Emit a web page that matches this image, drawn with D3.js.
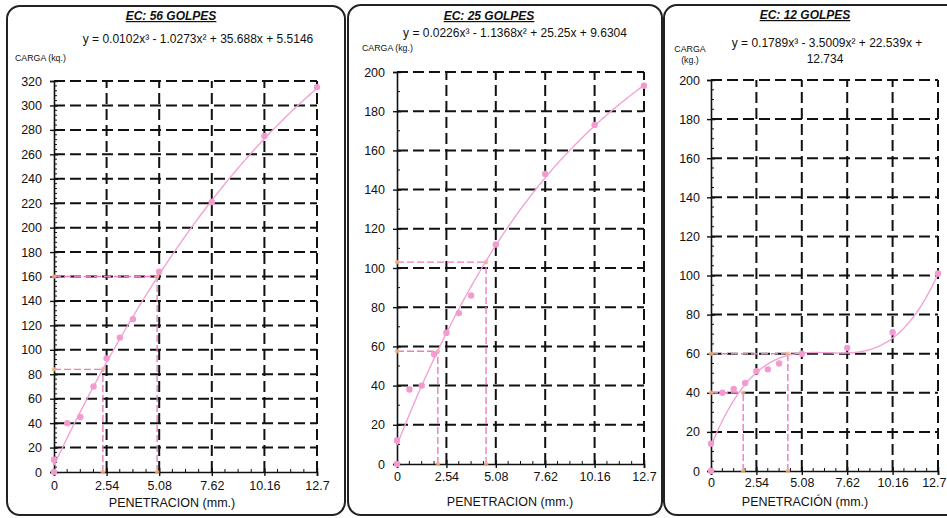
<!DOCTYPE html>
<html><head><meta charset="utf-8">
<script src="https://cdn.jsdelivr.net/npm/d3@7"></script>
<style>body{margin:0;background:#fff} text{font-family:"Liberation Sans",Arial,sans-serif;fill:#111}</style>
</head><body><svg id="c" width="947" height="518"></svg>
<script>
// ---------- DATA ----------
const xTickValues = [0, 2.54, 5.08, 7.62, 10.16, 12.7];
const xTickLabels = ["0", "2.54", "5.08", "7.62", "10.16", "12.7"];
const titles = ["EC: 56 GOLPES", "EC: 25 GOLPES", "EC: 12 GOLPES"];
const equationLines = [
  ["y = 0.0102x³ - 1.0273x² + 35.688x + 5.5146"],
  ["y = 0.0226x³ - 1.1368x² + 25.25x + 9.6304"],
  ["y = 0.1789x³ - 3.5009x² + 22.539x +", "12.734"]
];
const yAxisTitles = [["CARGA (kq.)"], ["CARGA (kg.)"], ["CARGA", "(kg.)"]];
const xAxisTitles = ["PENETRACION (mm.)", "PENETRACION (mm.)", "PENETRACIÓN (mm.)"];
const yMaxes = [320, 200, 200];
const yTickSteps = [20, 20, 20];
const yMinorSteps = [4, 10, 5];

const penetration = [0, 0, 0.64, 1.27, 1.91, 2.54, 3.18, 3.81, 5.08, 7.62, 10.16, 12.7];
const load56 = [0, 10, 40, 45, 70, 93, 110, 125, 164, 221, 275, 315];
const load25 = [0, 12, 38, 40, 56, 67, 77, 86, 112, 148, 173, 193];
const load12 = [0, 14, 40, 42, 45, 51, 52, 55, 60, 63, 71, 101];

// cubic trendline coefficients as printed on the chart (x³, x², x, const)
const coef56 = [0.0102, -1.0273, 35.688, 5.5146];
const coef25 = [0.0226, -1.1368, 25.25, 9.6304];
const coef12 = [0.1789, -3.5009, 22.539, 12.734];

// corrected reading lines (penetration, load)
const refX56 = [2.36, 4.98], refY56 = [84, 160];
const refX25 = [2.1, 4.58], refY25 = [57.5, 103];
const refX12 = [1.8, 4.3], refY12 = [40, 60];

// ---------- LAYOUT ----------
const layouts = [
  {box:[7,6,338,509], x0:54, x1:317, yTop:81, yBot:472, yLabX:42,
   title:[171,20], eq:[[198,43]], yt:[[15,61,"start"]], xLabY:490, xTitle:[172,507], clampRight:false},
  {box:[348,5,314,510], x0:397, x1:644, yTop:72, yBot:464, yLabX:385,
   title:[489,20], eq:[[515,37]], yt:[[362,51,"start"]], xLabY:481, xTitle:[510,506], clampRight:false},
  {box:[664,5,300,510], x0:711, x1:938, yTop:80, yBot:471, yLabX:700,
   title:[805,19], eq:[[827,47],[825,63]], yt:[[690,52,"middle"],[690,63,"middle"]], xLabY:487, xTitle:[805,506], clampRight:true}
];
const loads = [load56, load25, load12];
const coefs = [coef56, coef25, coef12];
const refXs = [refX56, refX25, refX12];
const refYs = [refY56, refY25, refY12];

const svg = d3.select("#c");
svg.append("rect").attr("width",947).attr("height",518).attr("fill","#fff");

const pink = "#f39ad0", pinkLine = "#f2a3d6", pinkDash = "#e97fc0", orange = "#f4b37c";

layouts.forEach((L, i) => {
  const g = svg.append("g");
  g.append("rect").attr("x",L.box[0]).attr("y",L.box[1]).attr("width",L.box[2]).attr("height",L.box[3])
    .attr("rx",13).attr("fill","none").attr("stroke","#222").attr("stroke-width",2);

  const x = d3.scaleLinear().domain([0, 12.7]).range([L.x0, L.x1]);
  const y = d3.scaleLinear().domain([0, yMaxes[i]]).range([L.yBot, L.yTop]);
  const yTicks = d3.range(0, yMaxes[i] + 0.001, yTickSteps[i]);
  const yMinor = d3.range(0, yMaxes[i] + 0.001, yMinorSteps[i]);
  const xMinor = d3.range(0, 12.71, 2.54 / 4);

  // grid
  const grid = g.append("g").attr("stroke","#111").attr("stroke-width",2).attr("stroke-dasharray","11,5");
  grid.selectAll(".h").data(yTicks.filter(v => v > 0)).join("line")
    .attr("x1", x(0)).attr("x2", x(12.7)).attr("y1", d => y(d)).attr("y2", d => y(d));
  grid.selectAll(".v").data(xTickValues.filter(v => v > 0)).join("line")
    .attr("y1", y(0)).attr("y2", y(yMaxes[i])).attr("x1", d => x(d)).attr("x2", d => x(d));

  // axes
  const yAxis = d3.axisLeft(y).tickValues(yTicks).tickSize(4).tickPadding(7).tickFormat(d3.format("d"));
  const ya = g.append("g").attr("transform",`translate(${L.x0},0)`).call(yAxis);
  ya.select(".domain").attr("stroke","#111").attr("stroke-width",1.6);
  ya.selectAll(".tick line").attr("stroke","#111").attr("stroke-width",1.4).attr("x2",4).attr("x1",-4);
  ya.selectAll(".tick text").attr("font-size",12.5).attr("fill","#111").attr("x", L.yLabX - L.x0)
    .attr("font-family","Liberation Sans, Arial, sans-serif");
  g.append("g").selectAll("line").data(yMinor).join("line")
    .attr("x1", L.x0).attr("x2", L.x0 + 3).attr("y1", d => y(d)).attr("y2", d => y(d))
    .attr("stroke","#111").attr("stroke-width",1);

  const xAxis = d3.axisBottom(x).tickValues(xTickValues).tickSize(4).tickFormat((d, k) => xTickLabels[k]);
  const xa = g.append("g").attr("transform",`translate(0,${L.yBot})`).call(xAxis);
  xa.select(".domain").attr("stroke","#111").attr("stroke-width",1.6);
  xa.selectAll(".tick line").attr("stroke","#111").attr("stroke-width",1.4).attr("y1",-4).attr("y2",4);
  xa.selectAll(".tick text").attr("font-size",12.5).attr("fill","#111").attr("y", L.xLabY - L.yBot - 9).attr("dy","0.71em")
    .attr("font-family","Liberation Sans, Arial, sans-serif");
  if (L.clampRight) {
    // last label sits at the page edge: keep it fully inside
    xa.selectAll(".tick text").filter(d => d === 12.7).attr("text-anchor","end").attr("x", 946 - L.x1);
  }
  g.append("g").selectAll("line").data(xMinor).join("line")
    .attr("y1", L.yBot).attr("y2", L.yBot - 3).attr("x1", d => x(d)).attr("x2", d => x(d))
    .attr("stroke","#111").attr("stroke-width",1);

  // reference (corrected) lines
  const rx = refXs[i], ry = refYs[i];
  const rg = g.append("g").attr("stroke",pinkDash).attr("stroke-width",1.4).attr("stroke-dasharray","7,3").attr("fill","none");
  rx.forEach((px, k) => {
    rg.append("line").attr("x1", x(0)).attr("x2", x(px)).attr("y1", y(ry[k])).attr("y2", y(ry[k]));
    rg.append("line").attr("x1", x(px)).attr("x2", x(px)).attr("y1", y(0)).attr("y2", y(ry[k]));
    [[0, ry[k]], [px, ry[k]], [px, 0]].forEach(p => {
      g.append("circle").attr("cx", x(p[0])).attr("cy", y(p[1])).attr("r", 2.3).attr("fill", orange).attr("opacity",0.8);
    });
  });

  // trendline from printed coefficients
  const c = coefs[i];
  const poly = t => c[0]*t*t*t + c[1]*t*t + c[2]*t + c[3];
  const xs = x.ticks(120);
  g.append("path").datum(xs)
    .attr("d", d3.line().x(d => x(d)).y(d => y(poly(d))))
    .attr("fill","none").attr("stroke",pinkLine).attr("stroke-width",1.4);

  // data points
  g.append("g").selectAll("circle").data(penetration.map((p, k) => [p, loads[i][k]])).join("circle")
    .attr("cx", d => x(d[0])).attr("cy", d => y(d[1])).attr("r", 3.2).attr("fill", pink);

  // texts
  g.append("text").attr("x", L.title[0]).attr("y", L.title[1]).attr("text-anchor","middle")
    .attr("font-size",12).attr("font-weight","bold").attr("font-style","italic")
    .attr("text-decoration","underline").text(titles[i]);
  equationLines[i].forEach((t, k) => {
    g.append("text").attr("x", L.eq[k][0]).attr("y", L.eq[k][1]).attr("text-anchor","middle")
      .attr("font-size",12).text(t);
  });
  yAxisTitles[i].forEach((t, k) => {
    g.append("text").attr("x", L.yt[k][0]).attr("y", L.yt[k][1]).attr("text-anchor", L.yt[k][2])
      .attr("font-size",8.8).text(t);
  });
  g.append("text").attr("x", L.xTitle[0]).attr("y", L.xTitle[1]).attr("text-anchor","middle")
    .attr("font-size",12.5).text(xAxisTitles[i]);
});
</script></body></html>
